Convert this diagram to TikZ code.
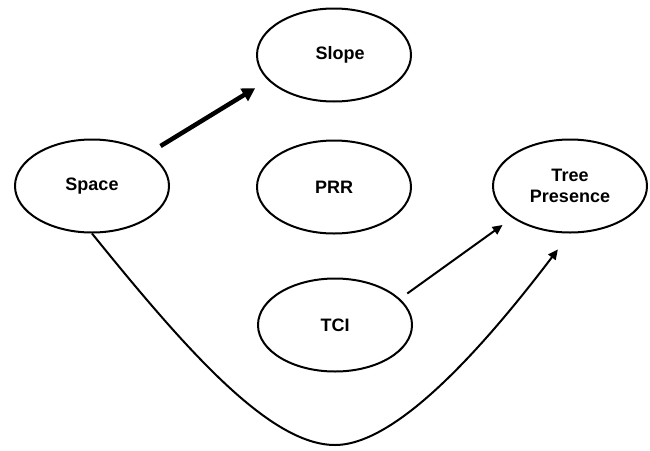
\documentclass[tikz,border=0pt]{standalone}
\usepackage{fontspec}
\setmainfont{Liberation Sans}
\usetikzlibrary{shapes.geometric,arrows.meta}
\tikzset{
  ell/.style={draw=black, line width=2pt, ellipse, inner sep=0pt,
    minimum width=154pt, minimum height=93pt, align=center,
    font=\fontsize{18}{21.5}\selectfont\bfseries},
  thickarrow/.style={line width=4.5pt, -{Triangle[length=13pt,width=14pt]}},
  thinarrow/.style={line width=2pt, -{Triangle[length=10pt,width=9pt]}}
}
\begin{document}
\begin{tikzpicture}[x=1pt,y=-1pt]
\useasboundingbox (0,0) rectangle (650,450);
\node[ell] (space) at (92,186) {Space};
\node[ell] (slope) at (334,55) {\hspace*{12pt}Slope};
\node[ell] (prr) at (334,187) {PRR};
\node[ell] (tci) at (335,325) {TCI};
\node[ell] (tp) at (570,186) {Tree\\Presence};
\coordinate (bottom) at (335,445);
\draw[thickarrow, shorten <=14pt, shorten >=15pt] (space.30) -- (slope.201);
\draw[thinarrow, shorten <=9pt, shorten >=12pt] (tci.22) -- (tp.209);
\draw[thinarrow, shorten >=20pt] (space.south) .. controls (187,351) and (270,445) .. (bottom)
  .. controls (400,445) and (492,336) .. (tp.south);
\end{tikzpicture}
\end{document}
